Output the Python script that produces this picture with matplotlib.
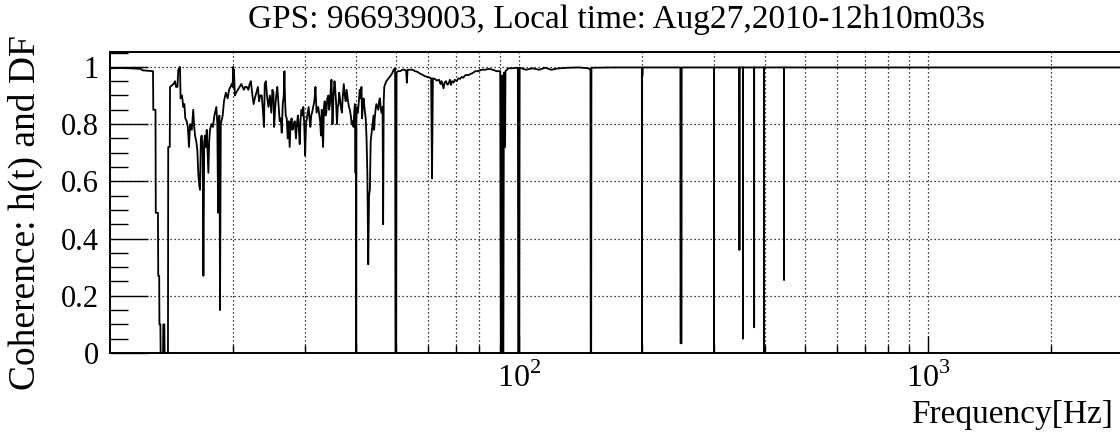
import matplotlib
matplotlib.use("Agg")
import matplotlib.pyplot as plt
from matplotlib.ticker import FixedLocator, FixedFormatter

plt.rcParams['font.family'] = ['Liberation Serif', 'DejaVu Serif']
plt.rcParams['mathtext.fontset'] = 'custom'
plt.rcParams['mathtext.rm'] = 'Liberation Serif'

title = "GPS: 966939003, Local time: Aug27,2010-12h10m03s"

# coherence values (frequency in Hz)
freq = [10.0, 10.6, 11.2, 11.9, 12.0, 12.74, 12.76, 12.92, 12.94, 13.10, 13.12, 13.19, 13.21, 13.28,
        13.30, 13.48, 13.50, 13.58, 13.60, 13.86, 13.88, 14.0, 14.02, 14.3, 14.42, 14.5, 14.62, 14.69,
        14.83, 14.88, 15.0, 15.11, 15.2, 15.28, 15.4, 15.5, 15.6, 15.7, 15.85, 15.98, 16.05, 16.14,
        16.25, 16.35, 16.45, 16.55, 16.6, 16.68, 16.76, 16.85, 16.92, 17.0, 17.07, 17.15, 17.24, 17.32,
        17.4, 17.48, 17.56, 17.7, 17.85, 18.0, 18.2, 18.3, 18.38, 18.45, 18.52, 18.58, 18.66, 18.86,
        19.0, 19.2, 19.4, 19.55, 19.7, 19.85, 19.95, 20.0, 20.05, 20.1, 20.2, 20.35, 20.55, 20.75,
        20.95, 21.1, 21.25, 21.4, 21.6, 21.8, 21.95, 22.1, 22.3, 22.45, 22.6, 22.8, 23.0, 23.15, 23.3,
        23.5, 23.65, 23.8, 23.9, 24.05, 24.2, 24.4, 24.6, 24.8, 24.95, 25.1, 25.2, 25.35, 25.5, 25.65,
        25.8, 26.0, 26.15, 26.3, 26.45, 26.6, 26.7, 26.8, 26.9, 27.05, 27.2, 27.35, 27.5, 27.65, 27.8,
        27.95, 28.1, 28.3, 28.5, 28.65, 28.8, 28.95, 29.1, 29.25, 29.4, 29.55, 29.7, 29.85, 30.0, 30.15,
        30.3, 30.45, 30.6, 30.75, 30.9, 31.05, 31.2, 31.4, 31.6, 31.8, 32.0, 32.15, 32.3, 32.5, 32.65,
        32.8, 32.95, 33.1, 33.2, 33.35, 33.5, 33.65, 33.8, 34.0, 34.2, 34.35, 34.5, 34.65, 34.8, 35.0,
        35.2, 35.4, 35.55, 35.7, 35.9, 36.05, 36.2, 36.35, 36.5, 36.7, 36.9, 37.1, 37.3, 37.5, 37.7,
        37.9, 38.05, 38.2, 38.4, 38.6, 38.8, 39.0, 39.2, 39.4, 39.55, 39.7, 39.85, 39.95, 40.0, 40.05,
        40.2, 40.4, 40.6, 40.8, 41.0, 41.2, 41.35, 41.5, 41.7, 41.95, 42.2, 42.4, 42.6, 42.8, 43.0,
        43.2, 43.4, 43.55, 43.7, 43.9, 44.1, 44.25, 44.4, 44.6, 44.8, 45.05, 45.3, 45.5, 45.7, 45.9,
        46.1, 46.4, 46.55, 46.7, 46.85, 47.1, 47.4, 47.7, 48.0, 48.3, 48.6, 49.0, 49.4, 49.8, 49.9,
        50.1, 50.2, 50.6, 51.2, 51.9, 52.6, 53.0, 53.2, 53.4, 54.2, 55.0, 55.7, 56.4, 57.2, 58.0, 58.8,
        59.6, 60.3, 61.0, 61.3, 61.6, 62.3, 63.0, 63.8, 64.3, 64.7, 65.1, 65.4, 65.8, 66.3, 66.8, 67.2,
        67.8, 68.2, 68.6, 69.2, 69.7, 70.4, 71.1, 71.8, 72.4, 73.1, 73.8, 74.6, 75.3, 76.0, 77.0, 78.2,
        79.5, 81.0, 82.6, 84.4, 86.3, 88.2, 89.6, 90.0, 90.3, 90.7, 91.0, 91.3, 91.6, 91.9, 92.2, 92.5,
        92.7, 93.5, 94.2, 96.0, 97.8, 99.4, 99.6, 100.2, 100.4, 104.0, 108.0, 112.0, 116.0, 120.0,
        125.0, 132.0, 140.0, 148.0, 149.6, 149.8, 150.2, 150.4, 170.0, 190.0, 199.8, 199.9, 200.1,
        200.6, 200.8, 230.0, 248.2, 248.4, 249.8, 250.0, 275.0, 299.9, 300.0, 300.1, 330.0, 345.5,
        345.7, 346.1, 346.5, 346.7, 352.9, 353.0, 353.1, 375.9, 376.0, 376.1, 397.3, 397.4, 397.5,
        444.9, 445.0, 445.1, 600.0, 1000.0, 3000.0]
coh = [0.995, 0.996, 0.995, 0.993, 0.988, 0.985, 0.85, 0.85, 0.49, 0.49, 0.27, 0.27, 0.10, 0.10,
       0.0, 0.0, 0.10, 0.10, 0.0, 0.0, 0.72, 0.72, 0.93, 0.94, 0.95, 0.93, 0.93, 0.99,
       1.0, 0.89, 0.90, 0.86, 0.87, 0.82, 0.81, 0.79, 0.72, 0.80, 0.78, 0.85, 0.80, 0.76,
       0.74, 0.71, 0.62, 0.58, 0.57, 0.75, 0.76, 0.70, 0.27, 0.74, 0.76, 0.72, 0.78, 0.70,
       0.63, 0.74, 0.78, 0.80, 0.79, 0.83, 0.86, 0.80, 0.49, 0.82, 0.83, 0.15, 0.80, 0.83,
       0.88, 0.91, 0.89, 0.92, 0.93, 0.94, 0.93, 1.0, 0.93, 0.99, 0.90, 0.91, 0.92, 0.93,
       0.94, 0.93, 0.92, 0.93, 0.93, 0.92, 0.94, 0.95, 0.90, 0.87, 0.89, 0.91, 0.93, 0.88, 0.90,
       0.90, 0.85, 0.79, 0.94, 0.95, 0.90, 0.86, 0.90, 0.84, 0.92, 0.91, 0.79, 0.86, 0.90, 0.93,
       0.88, 0.81, 0.82, 0.77, 0.87, 0.90, 0.985, 0.88, 0.83, 0.82, 0.75, 0.81, 0.72, 0.80, 0.82,
       0.78, 0.80, 0.81, 0.75, 0.80, 0.83, 0.79, 0.73, 0.82, 0.85, 0.83, 0.86, 0.80, 0.69, 0.80,
       0.82, 0.84, 0.86, 0.82, 0.79, 0.83, 0.84, 0.86, 0.88, 0.93, 0.84, 0.85, 0.86, 0.83, 0.81,
       0.76, 0.85, 0.76, 0.72, 0.86, 0.88, 0.83, 0.84, 0.89, 0.90, 0.85, 0.87, 0.92, 0.955, 0.80,
       0.90, 0.95, 0.92, 0.88, 0.80, 0.86, 0.87, 0.91, 0.89, 0.86, 0.84, 0.90, 0.94, 0.90, 0.88,
       0.92, 0.90, 0.88, 0.86, 0.85, 0.83, 0.80, 0.81, 0.79, 0.84, 0.87, 0.63, 0.80, 0.0, 0.82,
       0.86, 0.84, 0.88, 0.92, 0.89, 0.93, 0.82, 0.86, 0.89, 0.85, 0.82, 0.75, 0.62, 0.31, 0.55,
       0.57, 0.74, 0.76, 0.78, 0.81, 0.83, 0.78, 0.82, 0.85, 0.87, 0.86, 0.85, 0.88, 0.89, 0.86,
       0.84, 0.86, 0.45, 0.88, 0.93, 0.94, 0.95, 0.955, 0.96, 0.965, 0.97, 0.978, 0.99, 0.995, 0.0,
       0.0, 0.98, 0.985, 0.985, 0.99, 0.99, 0.985, 0.945, 0.99, 0.99, 0.99, 0.985, 0.983, 0.977, 0.973, 0.968,
       0.965, 0.963, 0.96, 0.61, 0.96, 0.958, 0.952, 0.955, 0.94, 0.95, 0.935, 0.925, 0.945, 0.95, 0.938, 0.94,
       0.955, 0.937, 0.95, 0.945, 0.955, 0.95, 0.96, 0.958, 0.965, 0.962, 0.97, 0.972, 0.971, 0.975, 0.978, 0.985,
       0.985, 0.99, 0.99, 0.993, 0.99, 0.985, 0.985, 0.985, 0.0, 0.0, 0.97, 0.0, 0.0, 0.98, 0.72, 0.72,
       0.985, 0.99, 0.995, 0.995, 0.996, 0.997, 0.0, 0.0, 0.997, 0.99, 0.995, 0.99, 0.997, 0.99,
       0.995, 0.997, 0.998, 0.995, 0.99, 0.0, 0.0, 0.997, 0.998, 0.998, 0.998, 0.0, 0.97,
       0.97, 0.998, 0.998, 0.998, 0.034, 0.034, 0.998, 0.998, 0.998, 0.0, 0.998, 0.998, 0.998,
       0.50, 0.36, 0.50, 0.998, 0.998, 0.05, 0.998, 0.998, 0.09, 0.998, 0.998, 0.0, 0.998,
       0.998, 0.255, 0.998, 0.998, 0.998, 0.998]

x_major = [100, 1000]
x_major_labels = ['$10^{2}$', '$10^{3}$']
x_minor = [20, 30, 40, 50, 60, 70, 80, 90, 200, 300, 400, 500, 600, 700, 800, 900, 2000]
y_major = [0, 0.2, 0.4, 0.6, 0.8, 1.0]
y_major_labels = ['0', '0.2', '0.4', '0.6', '0.8', '1']
y_minor = [0.05, 0.1, 0.15, 0.25, 0.3, 0.35, 0.45, 0.5, 0.55, 0.65, 0.7, 0.75, 0.85, 0.9, 0.95, 1.05]

fig = plt.figure(figsize=(11.2, 4.32), dpi=100)
ax = fig.add_axes([110 / 1120, 1 - 353 / 432, 1010 / 1120, 301 / 432])
ax.plot(freq, coh, color='black', lw=1.3)
ax.set_xscale('log')
ax.set_xlim(10, 2950)
ax.set_ylim(0, 1.052)

ax.xaxis.set_major_locator(FixedLocator(x_major))
ax.xaxis.set_major_formatter(FixedFormatter(x_major_labels))
ax.xaxis.set_minor_locator(FixedLocator(x_minor))
ax.xaxis.set_minor_formatter(FixedFormatter([''] * len(x_minor)))
ax.yaxis.set_major_locator(FixedLocator(y_major))
ax.yaxis.set_major_formatter(FixedFormatter(y_major_labels))
ax.yaxis.set_minor_locator(FixedLocator(y_minor))

ax.tick_params(axis='both', which='both', direction='in', color='black', width=1.0)
ax.tick_params(axis='x', which='major', length=12, pad=7, labelsize=23)
ax.tick_params(axis='x', which='minor', length=6)
ax.tick_params(axis='y', which='major', length=27, pad=8, labelsize=22)
ax.tick_params(axis='y', which='minor', length=13)

# ROOT style dotted grid, also on the minor x positions
grid_style = dict(color='black', linestyle=(0, (1, 2.2)), linewidth=0.9)
ax.grid(True, axis='x', which='both', **grid_style)
ax.grid(True, axis='y', which='major', **grid_style)
ax.set_axisbelow(True)

for side in ['left', 'bottom', 'top']:
    ax.spines[side].set_linewidth(1.4)
ax.spines['right'].set_visible(False)

fig.text(617 / 1120, 1 - 28 / 432, title, ha='center', va='baseline', fontsize=24)
fig.text(25 / 1120, 1 - 213 / 432, 'Coherence: h(t) and DF', rotation=90,
         ha='center', va='center', fontsize=27)
fig.text(1113 / 1120, 1 - 423 / 432, 'Frequency[Hz]', ha='right', va='baseline', fontsize=24)

fig.savefig('out.png', dpi=100)
